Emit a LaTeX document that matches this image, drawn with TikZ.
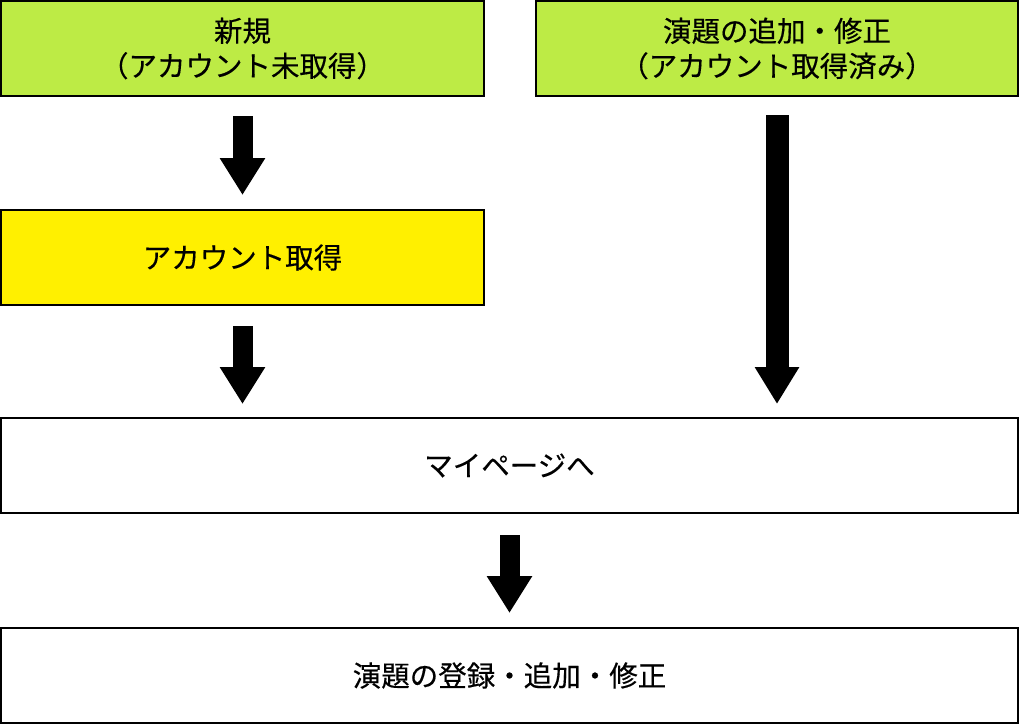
\documentclass[tikz,border=0pt]{standalone}
\usepackage{fontspec}
\setmainfont{Noto Sans CJK JP}
\newfontfamily\jpmed{Noto Sans CJK JP}[FakeBold=0.4]
\usetikzlibrary{arrows.meta}
\definecolor{boxgreen}{RGB}{189,235,69}
\definecolor{boxyellow}{RGB}{255,240,0}
\tikzset{
  box/.style={draw=black, line width=2pt, minimum height=95pt, align=center,
    inner sep=0pt, outer sep=0pt, font=\jpmed\fontsize{28.5}{35}\selectfont},
  bigarrow/.style={line width=20pt, -{Triangle[width=43pt,length=37pt]}},
}
\begin{document}
\begin{tikzpicture}[x=1pt,y=-1pt]
\useasboundingbox (0,0) rectangle (1020,724);
\node[box, fill=boxgreen, minimum width=483pt] (new) at (242.5,48.5) {新規\\（アカウント未取得）};
\node[box, fill=boxgreen, minimum width=482pt] (edit) at (777,48.5) {演題の追加・修正\\（アカウント取得済み）};
\node[box, fill=boxyellow, minimum width=483pt] (acct) at (242.5,257.5) {アカウント取得};
\node[box, fill=white, minimum width=1017pt] (mypage) at (509.5,465.5) {マイページへ};
\node[box, fill=white, minimum width=1017pt] (reg) at (509.5,675.5) {演題の登録・追加・修正};
\draw[bigarrow, shorten <=20pt, shorten >=15pt] (new.south) -- (acct.north);
\draw[bigarrow, shorten <=21pt, shorten >=14pt] (acct.south) -- (acct.south |- mypage.north);
\draw[bigarrow, line width=23pt, -{Triangle[width=42pt,length=37pt]}, shorten <=19pt, shorten >=14pt] (edit.south) -- (edit.south |- mypage.north);
\draw[bigarrow, shorten <=22pt, shorten >=15pt] (mypage.south) -- (reg.north);
\end{tikzpicture}
\end{document}
